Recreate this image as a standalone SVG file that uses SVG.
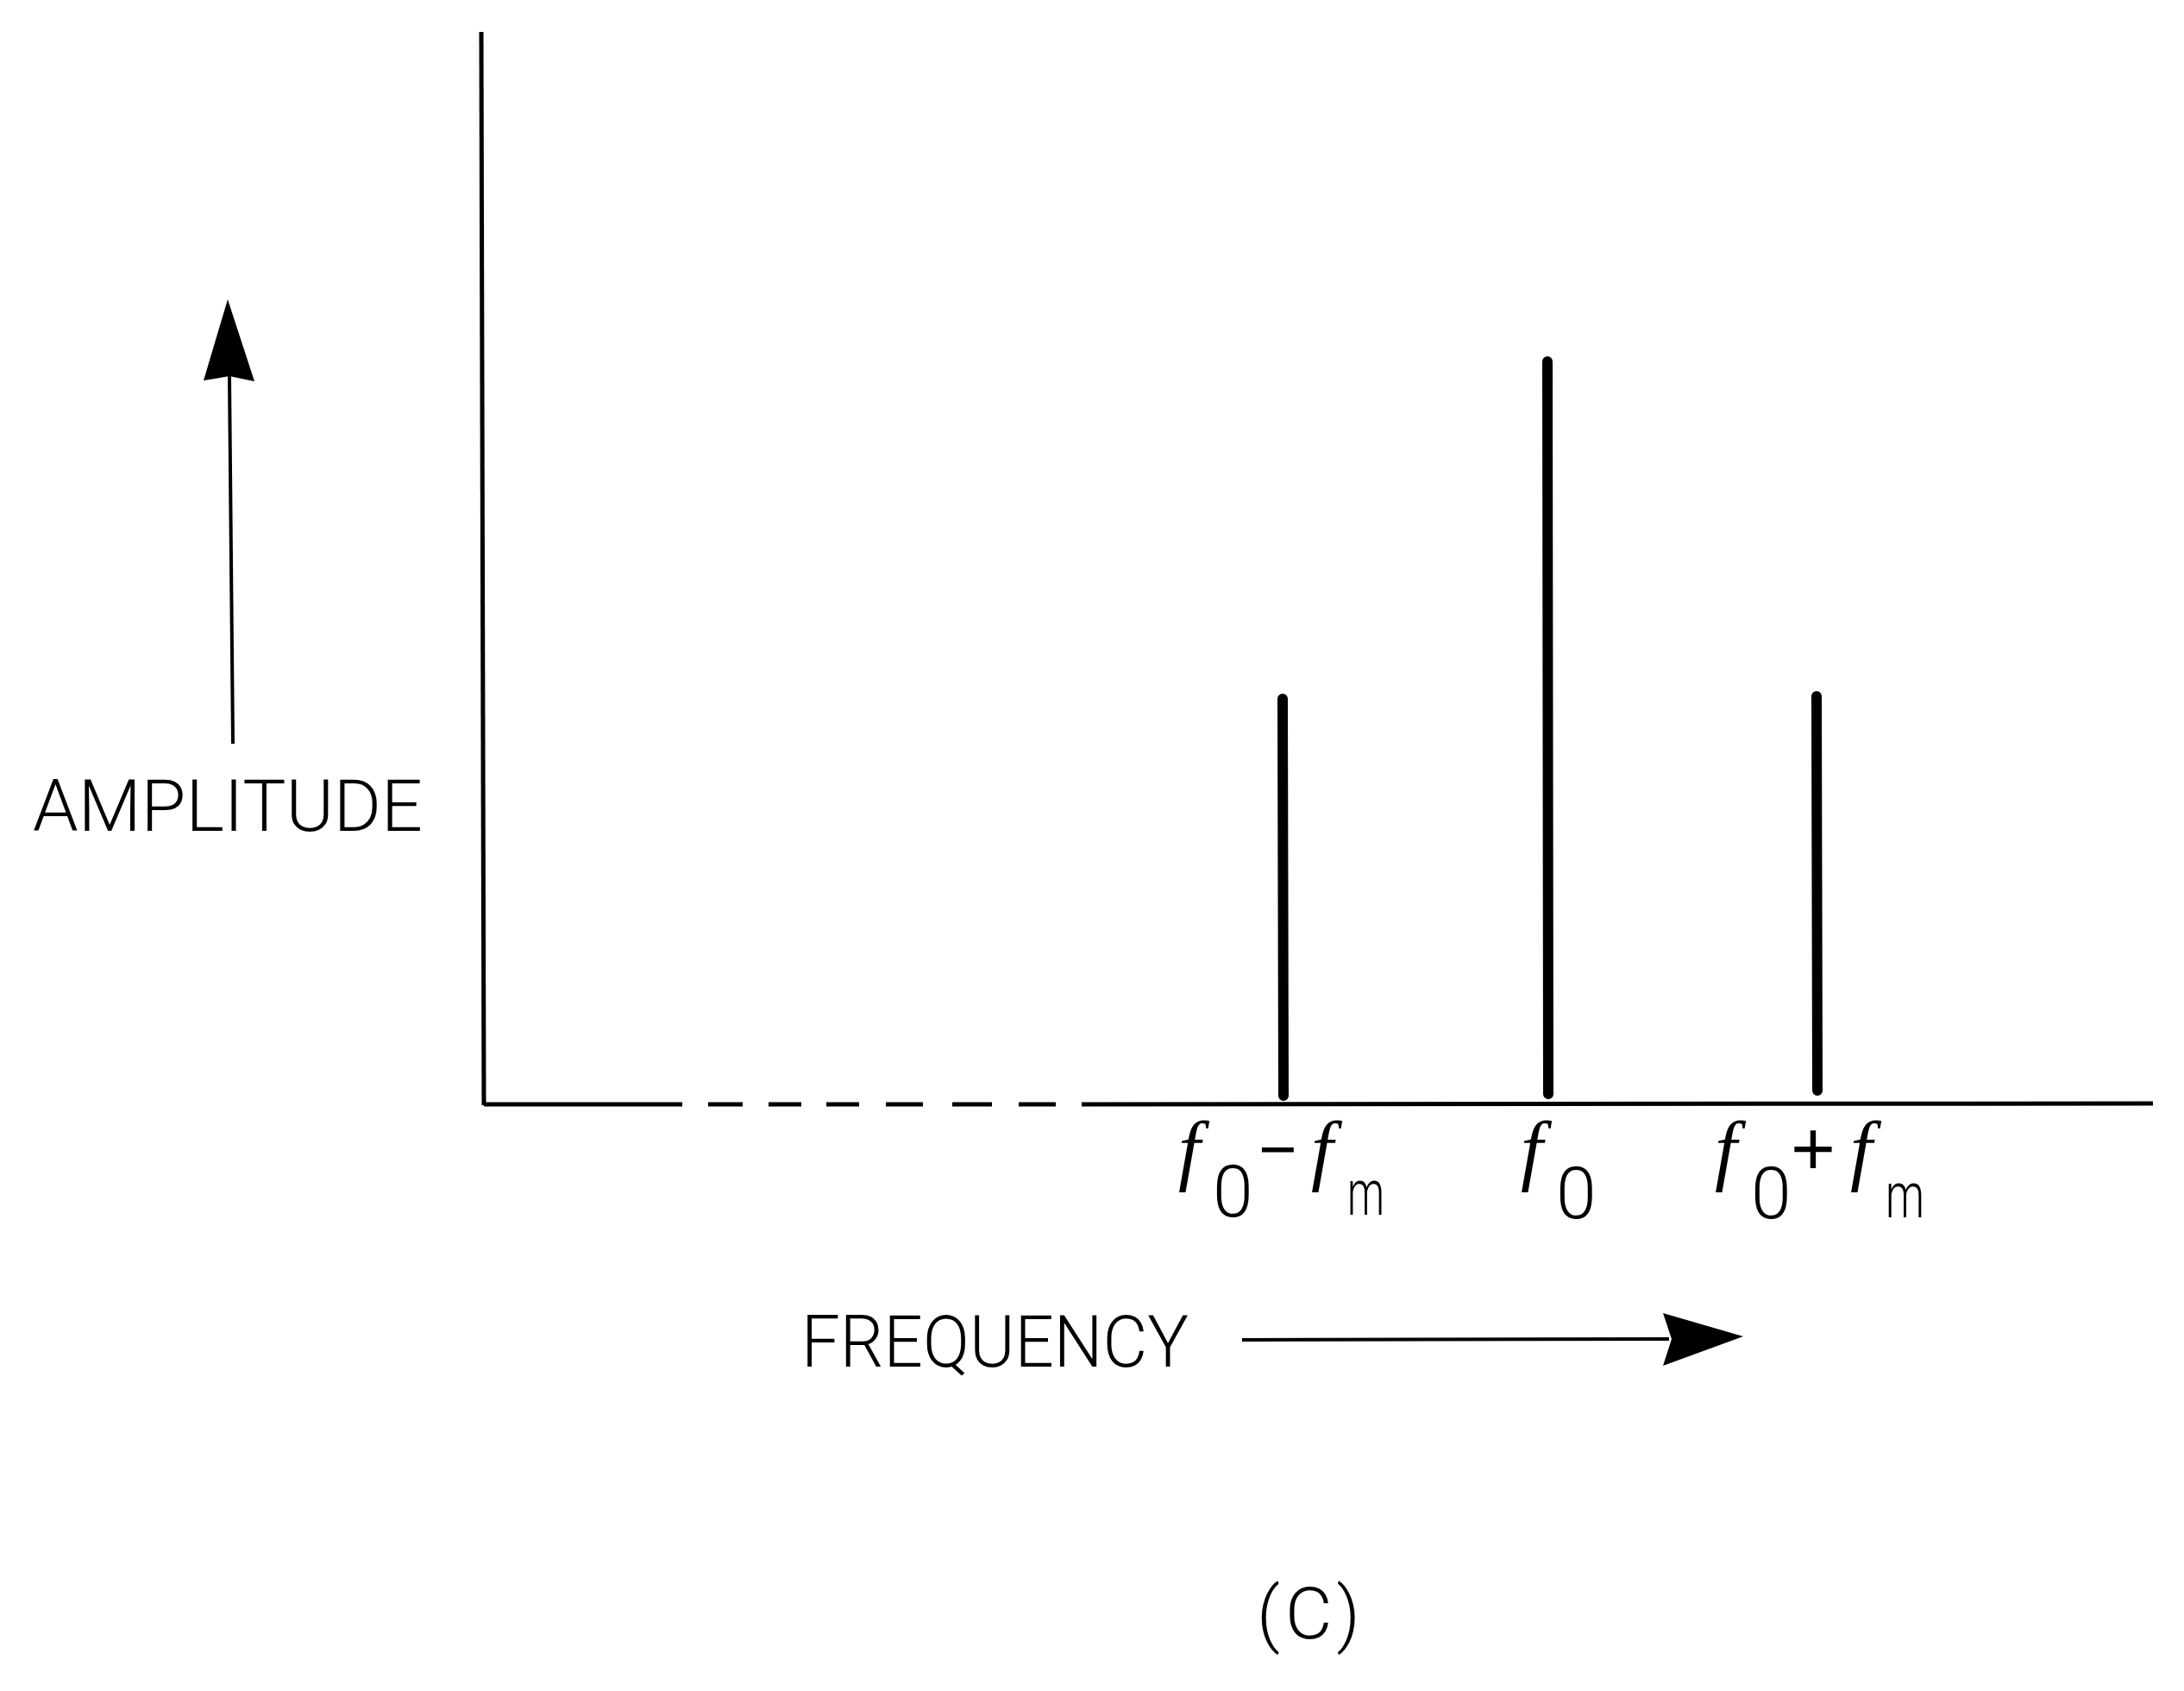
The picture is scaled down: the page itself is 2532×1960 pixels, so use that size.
<svg xmlns="http://www.w3.org/2000/svg" width="2532" height="1960" viewBox="0 0 2532 1960">
<style>
  .axis { stroke:#000; stroke-width:5; fill:none; stroke-linecap:butt; }
  .thin { stroke:#000; stroke-width:4; fill:none; }
  .spec { stroke:#000; stroke-width:12; stroke-linecap:round; fill:none; }
  .lbl { font-family:Roboto, "Liberation Sans", sans-serif; font-weight:300; font-size:84px; fill:#000; }
  .fi { font-family:"Liberation Serif", "DejaVu Serif", serif; font-style:italic; font-size:92px; font-weight:400; }
  .sub { font-size:84px; }
  .m { font-size:74px; }
  .op { font-family:"Liberation Sans", sans-serif; font-size:76px; font-weight:400; }
  .plus { font-family:"Liberation Sans", sans-serif; font-size:89px; font-weight:400; }
</style>
<rect width="2532" height="1960" fill="#fff"/>
<g id="connectors">
  <g id="y-axis"><line class="axis" x1="558" y1="37" x2="561" y2="1281"/></g>
  <g id="x-axis">
    <line class="axis" x1="561" y1="1280" x2="791" y2="1280"/>
    <line class="axis" x1="821" y1="1280" x2="861" y2="1280"/>
    <line class="axis" x1="891" y1="1280" x2="929" y2="1280"/>
    <line class="axis" x1="958" y1="1280" x2="996" y2="1280"/>
    <line class="axis" x1="1027" y1="1280" x2="1070" y2="1280"/>
    <line class="axis" x1="1104" y1="1280" x2="1150" y2="1280"/>
    <line class="axis" x1="1181" y1="1280" x2="1224" y2="1280"/>
    <line class="axis" x1="1254" y1="1280" x2="2496" y2="1279"/>
  </g>
  <g id="amplitude-arrow">
    <line class="thin" x1="270" y1="862" x2="266" y2="436"/>
    <polygon points="264,347 295,442 266,436 236,441" fill="#000"/>
  </g>
  <g id="frequency-arrow">
    <line class="thin" x1="1440" y1="1553" x2="1935" y2="1552"/>
    <polygon points="2021,1549 1928,1522 1938,1552 1928,1583" fill="#000"/>
  </g>
</g>
<g id="line-f0-minus-fm"><line class="spec" x1="1487" y1="810" x2="1488" y2="1270"/></g>
<g id="line-f0"><line class="spec" x1="1794" y1="419" x2="1795" y2="1268"/></g>
<g id="line-f0-plus-fm"><line class="spec" x1="2106" y1="807" x2="2107" y2="1264"/></g>
<g id="label-amplitude"><text class="lbl" x="38" y="963" textLength="452" lengthAdjust="spacingAndGlyphs">AMPLITUDE</text></g>
<g id="label-frequency"><text class="lbl" x="929" y="1584" textLength="449" lengthAdjust="spacingAndGlyphs">FREQUENCY</text></g>
<g id="label-c"><text class="lbl" x="1457" y="1899" textLength="120" lengthAdjust="spacing">(C)</text></g>
<g id="label-f0-minus-fm"><text class="lbl"><tspan class="fi" x="1366" y="1363">f</tspan><tspan class="sub" x="1406" y="1410">0</tspan><tspan class="op" x="1459" y="1358">−</tspan><tspan class="fi" x="1520" y="1363">f</tspan><tspan class="m" x="1562" y="1408" textLength="43" lengthAdjust="spacingAndGlyphs">m</tspan></text></g>
<g id="label-f0"><text class="lbl"><tspan class="fi" x="1763" y="1363">f</tspan><tspan class="sub" x="1804" y="1412">0</tspan></text></g>
<g id="label-f0-plus-fm"><text class="lbl"><tspan class="fi" x="1988" y="1363">f</tspan><tspan class="sub" x="2030" y="1412">0</tspan><tspan class="plus" x="2076" y="1362">+</tspan><tspan class="fi" x="2145" y="1363">f</tspan><tspan class="m" x="2186" y="1411" textLength="45" lengthAdjust="spacingAndGlyphs">m</tspan></text></g>
</svg>
